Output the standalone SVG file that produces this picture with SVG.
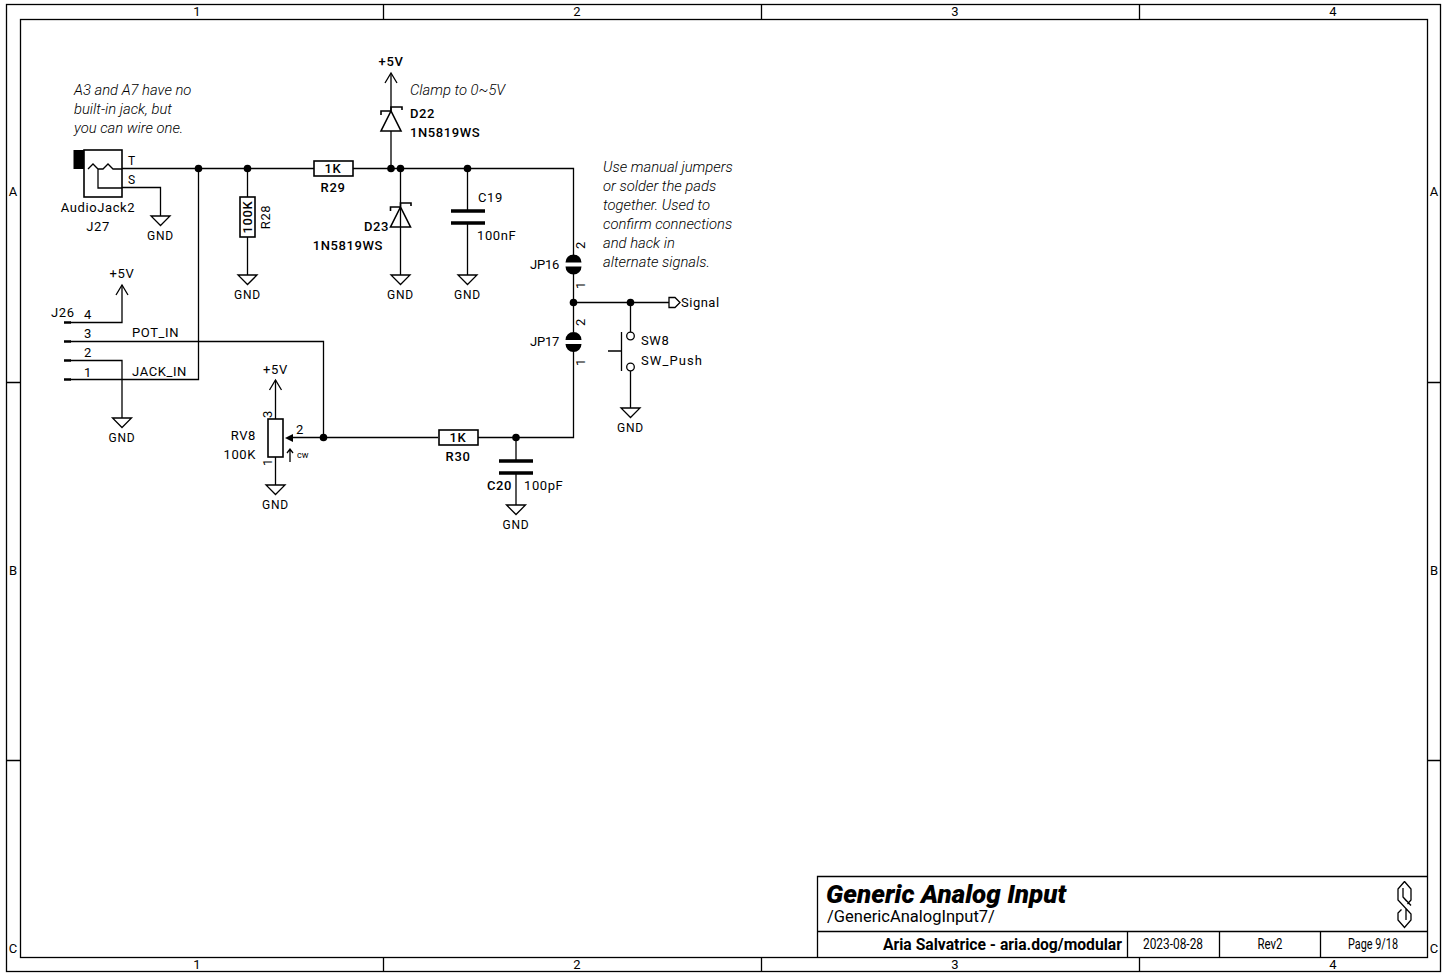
<svg xmlns="http://www.w3.org/2000/svg" width="1447" height="976" viewBox="0 0 1447 976">
<defs>
<style>
text{font-family:"Roboto","Liberation Sans",sans-serif;fill:#000}
.f{fill:none;stroke:#000;stroke-width:1.3}
.w{fill:none;stroke:#000;stroke-width:1.3}
.b{fill:#fff;stroke:#000;stroke-width:1.6}
.o{fill:none;stroke:#000;stroke-width:1.6}
.l{font-size:13px;letter-spacing:.6px}
.n{font-size:13px;letter-spacing:.6px;font-weight:500}
.i{font-size:14.8px;font-style:italic;font-weight:300}
.m{font-size:12px}
.g{font-size:12px;text-anchor:middle;letter-spacing:.8px}
.s{font-size:13px;text-anchor:middle}
</style>
<g id="gnd"><path class="w" d="M-9.500 0H9.500L0 9.500Z"/><text class="g" y="24" x="0">GND</text></g>
<path id="up" class="w" d="M-6 10L0 0L6 10"/>
<circle id="dot" r="3.800" fill="#000"/>
</defs>
<g id="frame">
<rect class="f" x="6.500" y="4.500" width="1434" height="967"/>
<rect class="f" x="20.500" y="19.500" width="1407" height="938"/>
<path class="f" d="M383.500 4.500V19.500M761.500 4.500V19.500M1139.500 4.500V19.500M383.500 957.500V971.500M761.500 957.500V971.500M1139.500 957.500V971.500M6.500 382.500H20.500M6.500 760.500H20.500M1427.500 382.500H1440.500M1427.500 760.500H1440.500"/>
<text class="s" x="197" y="16">1</text><text class="s" x="577" y="16">2</text><text class="s" x="955" y="16">3</text><text class="s" x="1333" y="16">4</text>
<text class="s" x="197" y="969">1</text><text class="s" x="577" y="969">2</text><text class="s" x="955" y="969">3</text><text class="s" x="1333" y="969">4</text>
<text class="s" x="13" y="196">A</text><text class="s" x="13" y="575">B</text><text class="s" x="13" y="953">C</text>
<text class="s" x="1434" y="196">A</text><text class="s" x="1434" y="575">B</text><text class="s" x="1434" y="953">C</text>
</g>
<g id="title-block">
<path class="f" d="M817.500 957.500V876.500H1427.500M817.500 931.500H1427.500M1127.500 931.500V957.500M1219.500 931.500V957.500M1320.500 931.500V957.500"/>
<text x="826" y="903" font-size="26" font-weight="900" font-style="italic">Generic Analog Input</text>
<text x="827" y="922" font-size="16.500">/GenericAnalogInput7/</text>
<text x="1122" y="950" font-size="15.700" font-weight="700" text-anchor="end">Aria Salvatrice - aria.dog/modular</text>
<text x="1173" y="949" font-size="14" text-anchor="middle" textLength="60" lengthAdjust="spacingAndGlyphs">2023-08-28</text>
<text x="1270" y="949" font-size="14" text-anchor="middle" textLength="25" lengthAdjust="spacingAndGlyphs">Rev2</text>
<text x="1373" y="949" font-size="14" text-anchor="middle" textLength="50" lengthAdjust="spacingAndGlyphs">Page 9/18</text>
<path class="w" d="M1404.500 881.500L1398 889V900L1411 914V920L1404.500 927.500L1398 920V913L1401.500 909.500M1404.500 881.500L1411 889V900L1407.500 904M1403 888V897L1406.500 901M1403 897L1411 905.500M1406 909V920"/>
</g>
<g id="connectors">
<path class="w" d="M122 168.500H316M352 168.500H573.500V255M573.500 273V332M573.500 351V437.500H478M438 437.500H292M198.500 168.500V379.500H70M122 187.500H160.500V216M247.500 168.500V197M247.500 237V275M391 168.500V131M391 111V74M400.500 168.500V275M467.500 168.500V211M467.500 224V275M573.500 302.500H669M630.500 302.500V332M630.500 371V408M516 437.500V460M516 474V505M70 322.500H122V285M70 341.500H323.500V437.500M70 360.500H122V418M275.500 419V380M275.500 457V485"/>
</g>
<g id="dots">
<use href="#dot" x="198.500" y="168.500"/><use href="#dot" x="247.500" y="168.500"/><use href="#dot" x="391" y="168.500"/><use href="#dot" x="400.500" y="168.500"/><use href="#dot" x="467.500" y="168.500"/><use href="#dot" x="573.500" y="302.500"/><use href="#dot" x="630.500" y="302.500"/><use href="#dot" x="516" y="437.500"/><use href="#dot" x="323.500" y="437.500"/>
</g>
<g id="notes">
<text class="i" x="74" y="95">A3 and A7 have no</text><text class="i" x="74" y="114">built-in jack, but</text><text class="i" x="74" y="133">you can wire one.</text>
<text class="i" x="410" y="95">Clamp to 0~5V</text>
<text class="i" x="603" y="172">Use manual jumpers</text><text class="i" x="603" y="191">or solder the pads</text><text class="i" x="603" y="210">together. Used to</text><text class="i" x="603" y="229">confirm connections</text><text class="i" x="603" y="248">and hack in</text><text class="i" x="603" y="267">alternate signals.</text>
</g>
<g id="J27">
<rect x="73.500" y="150" width="11" height="19" fill="#000"/>
<rect class="b" x="84" y="150" width="38" height="47"/>
<path class="w" d="M88 169L93 164L98 169H103L108 164L113 169H122M98 169V188H122"/>
<text class="m" x="128" y="165">T</text><text class="m" x="128" y="184">S</text>
<text class="l" x="98" y="212" text-anchor="middle">AudioJack2</text><text class="l" x="98" y="231" text-anchor="middle">J27</text>
<use href="#gnd" x="160.500" y="216"/>
</g>
<g id="R28"><rect class="b" x="240" y="197" width="15" height="40"/>
<text class="n" transform="translate(252,217) rotate(-90)" text-anchor="middle">100K</text><text class="l" transform="translate(270,217) rotate(-90)" text-anchor="middle">R28</text><use href="#gnd" x="247.500" y="275"/></g>
<g id="R29"><rect class="b" x="314" y="161" width="39" height="15"/><text class="n" x="333" y="173" text-anchor="middle">1K</text><text class="n" x="333" y="192" text-anchor="middle">R29</text></g>
<g id="D22"><path class="o" d="M391 111L381 131H401ZM381 115V111H391V107H402V110"/>
<text class="n" x="410" y="118">D22</text><text class="n" x="410" y="137">1N5819WS</text><use href="#up" x="391" y="73"/><text class="n" x="391" y="66" text-anchor="middle">+5V</text></g>
<g id="D23"><path class="o" d="M400.500 207L390.500 227H410.500ZM390.500 211V207H400.500V203H411V206"/>
<text class="n" x="389" y="231" text-anchor="end">D23</text><text class="n" x="383" y="250" text-anchor="end">1N5819WS</text><use href="#gnd" x="400.500" y="275"/></g>
<g id="C19"><path d="M451 211H485M451 223H485" stroke="#000" stroke-width="3.500" fill="none"/><text class="l" x="478" y="202">C19</text><text class="l" x="477" y="240">100nF</text><use href="#gnd" x="467.500" y="275"/></g>
<g id="JP16"><path d="M565.500 262.500A8 8 0 0 1 581.500 262.500ZM565.500 266.500A8 8 0 0 0 581.500 266.500Z" fill="#000"/><text class="l" x="560" y="269" text-anchor="end" textLength="30">JP16</text><text class="l" transform="translate(585,245) rotate(-90)" text-anchor="middle">2</text><text class="l" transform="translate(585,285) rotate(-90)" text-anchor="middle">1</text></g>
<g id="JP17"><path d="M565.500 340A8 8 0 0 1 581.500 340ZM565.500 344A8 8 0 0 0 581.500 344Z" fill="#000"/><text class="l" x="560" y="346" text-anchor="end" textLength="30">JP17</text><text class="l" transform="translate(585,322) rotate(-90)" text-anchor="middle">2</text><text class="l" transform="translate(585,362) rotate(-90)" text-anchor="middle">1</text></g>
<g id="Signal"><path class="b" d="M669 297.500H675L680 302.500L675 307.500H669Z" style="stroke-width:1.3"/><text x="681" y="307" font-size="13" letter-spacing=".5">Signal</text></g>
<g id="SW8"><circle class="b" cx="630.500" cy="336" r="3.800" style="stroke-width:1.3"/><circle class="b" cx="630.500" cy="367" r="3.800" style="stroke-width:1.3"/><path class="w" d="M621.500 332V371M608 351H621.500"/><text class="l" x="641" y="345">SW8</text><text class="l" x="641" y="365" style="letter-spacing:1.100px">SW_Push</text><use href="#gnd" x="630.500" y="408"/></g>
<g id="R30"><rect class="b" x="439" y="430" width="39" height="15"/><text class="n" x="458" y="442" text-anchor="middle">1K</text><text class="n" x="458" y="461" text-anchor="middle">R30</text></g>
<g id="C20"><path d="M499 461H533M499 473H533" stroke="#000" stroke-width="3.500" fill="none"/><text class="n" x="487" y="490">C20</text><text class="l" x="524" y="490">100pF</text><use href="#gnd" x="516" y="505"/></g>
<g id="J26"><path d="M64 322.500H71M64 341.500H71M64 360.500H71M64 379.500H71" stroke="#000" stroke-width="2.500" fill="none"/>
<text class="l" x="51" y="317">J26</text><text class="l" x="84" y="319">4</text><text class="l" x="84" y="338">3</text><text class="l" x="84" y="357">2</text><text class="l" x="84" y="377">1</text>
<text class="l" x="132" y="337">POT_IN</text><text class="l" x="132" y="376">JACK_IN</text>
<use href="#up" x="122" y="285"/><text class="l" x="122" y="278" text-anchor="middle">+5V</text><use href="#gnd" x="122" y="418"/></g>
<g id="RV8"><rect class="b" x="268" y="419" width="15" height="38"/><path d="M285 438L293 434V442Z" fill="#000"/><path class="w" d="M290 462V449M287 453L290 449L293 453"/><text x="297" y="458" font-size="9">cw</text>
<text class="l" x="256" y="440" text-anchor="end">RV8</text><text class="l" x="256" y="459" text-anchor="end">100K</text><text class="l" x="296" y="434">2</text>
<text class="l" transform="translate(272,414) rotate(-90)" text-anchor="middle">3</text><text class="l" transform="translate(272,462) rotate(-90)" text-anchor="middle">1</text>
<use href="#up" x="275.500" y="380"/><text class="l" x="275.500" y="374" text-anchor="middle">+5V</text><use href="#gnd" x="275.500" y="485"/></g>
</svg>
